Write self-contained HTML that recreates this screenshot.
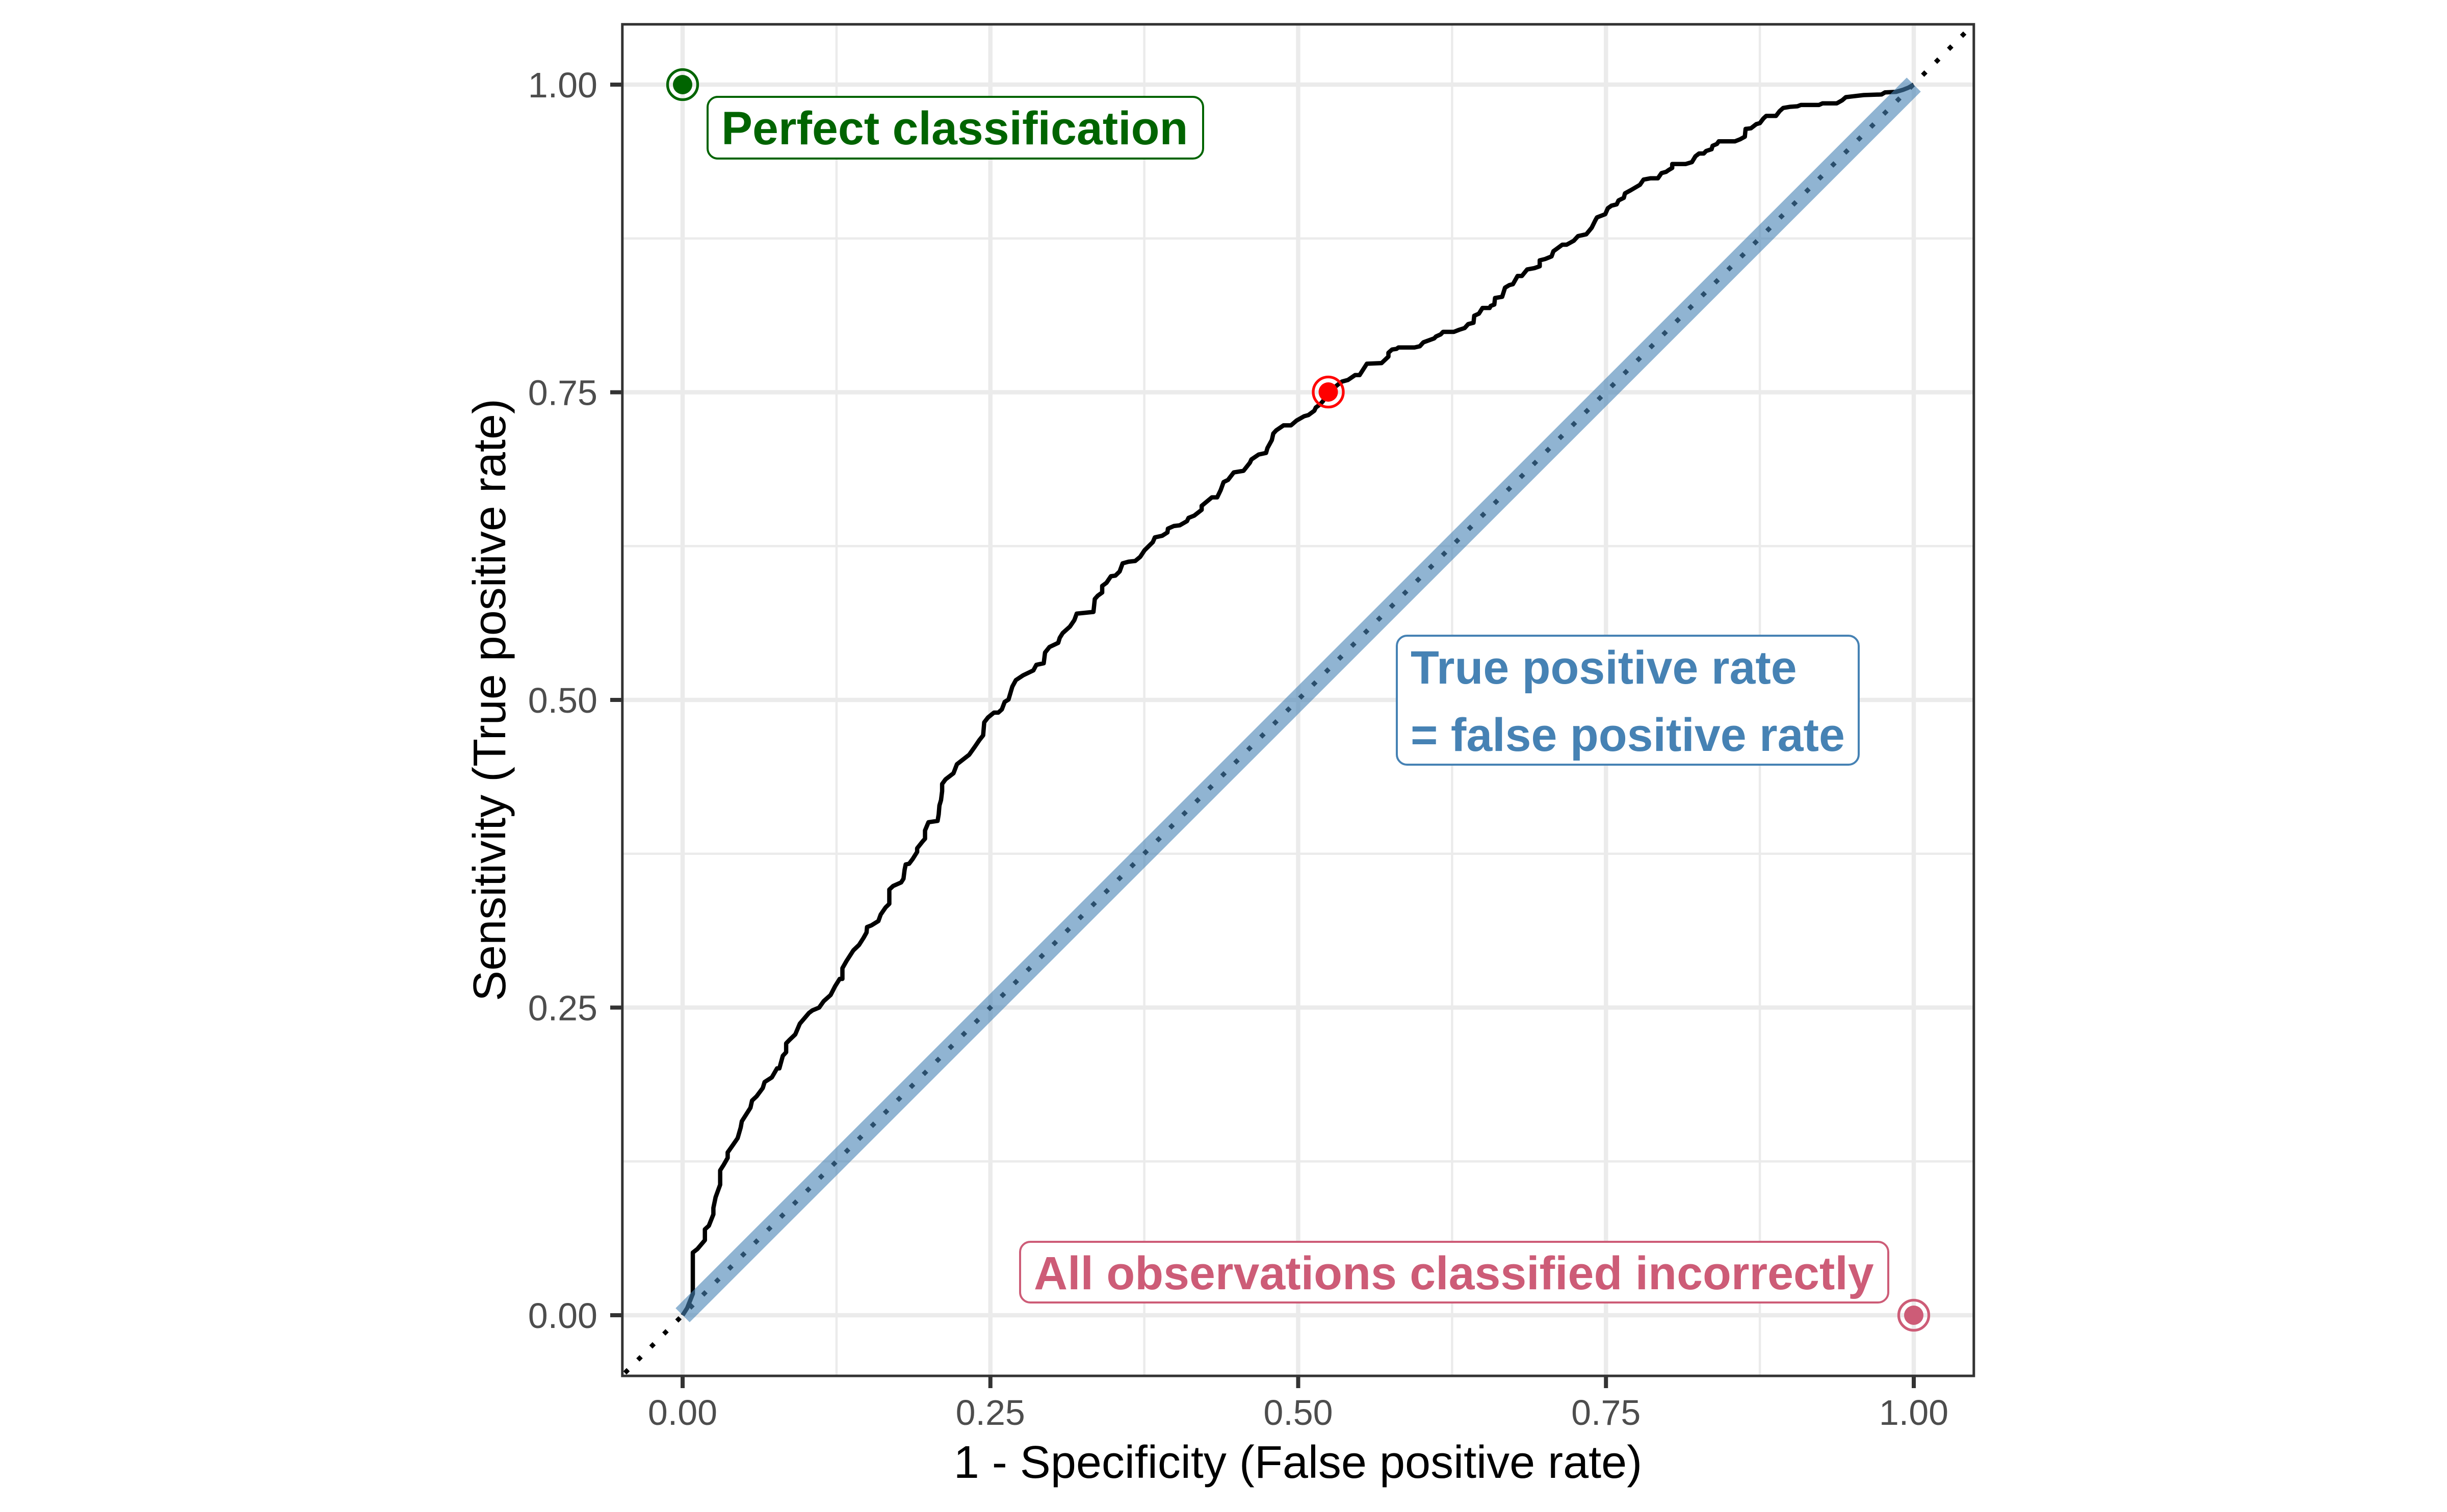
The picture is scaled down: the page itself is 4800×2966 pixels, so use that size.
<!DOCTYPE html>
<html>
<head>
<meta charset="utf-8">
<style>
  html,body{margin:0;padding:0;background:#fff;}
  svg{display:block;}
  text{font-family:"Liberation Sans",Arial,sans-serif;}
</style>
</head>
<body>
<svg width="4800" height="2966" viewBox="0 0 4800 2966" xmlns="http://www.w3.org/2000/svg">
  <rect x="0" y="0" width="4800" height="2966" fill="#ffffff"/>

  <!-- minor grid -->
  <g stroke="#EBEBEB" stroke-width="4.5" fill="none">
    <line x1="1640.9" y1="48" x2="1640.9" y2="2699"/>
    <line x1="2244.6" y1="48" x2="2244.6" y2="2699"/>
    <line x1="2848.4" y1="48" x2="2848.4" y2="2699"/>
    <line x1="3452.1" y1="48" x2="3452.1" y2="2699"/>
    <line x1="1221" y1="2278.25" x2="3872" y2="2278.25"/>
    <line x1="1221" y1="1674.75" x2="3872" y2="1674.75"/>
    <line x1="1221" y1="1071.25" x2="3872" y2="1071.25"/>
    <line x1="1221" y1="467.75" x2="3872" y2="467.75"/>
  </g>
  <!-- major grid -->
  <g stroke="#EBEBEB" stroke-width="8.5" fill="none">
    <line x1="1339" y1="48" x2="1339" y2="2699"/>
    <line x1="1942.75" y1="48" x2="1942.75" y2="2699"/>
    <line x1="2546.5" y1="48" x2="2546.5" y2="2699"/>
    <line x1="3150.25" y1="48" x2="3150.25" y2="2699"/>
    <line x1="3754" y1="48" x2="3754" y2="2699"/>
    <line x1="1221" y1="2580" x2="3872" y2="2580"/>
    <line x1="1221" y1="1976.5" x2="3872" y2="1976.5"/>
    <line x1="1221" y1="1373" x2="3872" y2="1373"/>
    <line x1="1221" y1="769.5" x2="3872" y2="769.5"/>
    <line x1="1221" y1="166" x2="3872" y2="166"/>
  </g>

  <!-- dotted diagonal -->
  <line x1="1221" y1="2698" x2="3872" y2="47" stroke="#000" stroke-width="9" stroke-dasharray="9 27" stroke-dashoffset="29.2"/>

  <!-- ROC curve -->
  <g transform="translate(1339 2580) scale(2415 -2414)">
    <polyline fill="none" stroke="#000" stroke-width="8.5" vector-effect="non-scaling-stroke" stroke-linejoin="round" stroke-linecap="butt" points="
0,0 0.0037,0.0058 0.0083,0.0174 0.0083,0.0509 0.012,0.0538 0.0181,0.0610 0.0181,0.0698 0.0213,0.0727 0.025,0.082 0.025,0.0872 0.0268,0.0959 0.0305,0.1061 0.0305,0.1177 0.0333,0.1221 0.0366,0.1279 0.0366,0.1323 0.0407,0.1381 0.0447,0.1439 0.0472,0.1526 0.0481,0.1576 0.0518,0.1634 0.0551,0.1686 0.0564,0.1744 0.0601,0.1779 0.0651,0.1846 0.0666,0.1895 0.0725,0.1933 0.0767,0.2006 0.0786,0.2006 0.0814,0.2108 0.0841,0.2137 0.0841,0.2209 0.0869,0.2238 0.0915,0.2282 0.0952,0.2369 0.1026,0.2456 0.1054,0.2477 0.1109,0.25 0.1146,0.2552 0.1202,0.2602 0.1239,0.2674 0.1276,0.2733 0.1298,0.2733 0.1298,0.282 0.1331,0.2878 0.1387,0.2965 0.1433,0.3009 0.147,0.3067 0.1494,0.311 0.1498,0.3154 0.1535,0.3169 0.159,0.3203 0.1609,0.3256 0.1649,0.3314 0.1679,0.3343 0.1679,0.3459 0.171,0.3488 0.1775,0.3517 0.1794,0.3547 0.1803,0.3619 0.1812,0.3663 0.184,0.3669 0.1868,0.3706 0.1905,0.3765 0.1905,0.3794 0.1951,0.3852 0.1969,0.3872 0.1969,0.3939 0.1997,0.4006 0.2071,0.4017 0.208,0.407 0.2086,0.4142 0.2099,0.4186 0.2108,0.4259 0.2108,0.4317 0.2136,0.4355 0.22,0.4404 0.2228,0.4477
0.2327,0.4554 0.2374,0.4620 0.241,0.4673 0.2441,0.4712 0.245,0.4818 0.2481,0.4858 0.2529,0.4897 0.2564,0.4897 0.2593,0.4923 0.2616,0.4984 0.2647,0.5003 0.2678,0.5108 0.2707,0.5161 0.2766,0.5200 0.2849,0.5240 0.2873,0.5285 0.2933,0.5298 0.2944,0.5385 0.298,0.5430 0.3051,0.5464 0.3063,0.5504 0.3087,0.5543 0.3146,0.5596 0.3182,0.5649 0.3201,0.5701 0.3337,0.5715 0.3348,0.5820 0.3372,0.5847 0.3408,0.5873 0.3408,0.5926 0.3443,0.5952 0.3479,0.6005 0.3515,0.6010 0.355,0.6044 0.3574,0.6110 0.3622,0.6123 0.3676,0.6129 0.3717,0.6163 0.3752,0.6216 0.3819,0.6282 0.3836,0.6321 0.3895,0.6334 0.3938,0.6361 0.3942,0.6392 0.399,0.6413 0.4038,0.6419 0.4097,0.6453 0.4109,0.6479 0.4156,0.6498 0.4216,0.6545 0.4216,0.6577 0.4299,0.6646 0.4342,0.6646 0.4370,0.6704 0.4394,0.6770 0.443,0.6788 0.4477,0.6849 0.4556,0.6862 0.4608,0.6928 0.462,0.6954 0.4679,0.6994 0.4739,0.7007 0.4750,0.7046 0.4786,0.7112 0.4798,0.7165 0.4822,0.7191 0.4881,0.7231 0.4941,0.7231 0.4988,0.7271 0.5048,0.7305 0.5083,0.7315 0.5131,0.7350 0.5143,0.7376 0.5178,0.7402 0.5202,0.7429 0.5245,0.75 0.5321,0.7561 0.5356,0.7587 0.5404,0.76 0.5463,0.764 0.5499,0.764 0.5558,0.7732 0.5677,0.7737 0.5733,0.7790
0.5733,0.7821 0.5762,0.7847 0.5799,0.7853 0.5814,0.7864 0.5945,0.7864 0.5988,0.7874 0.6017,0.7906 0.6105,0.7938 0.6119,0.7953 0.6157,0.7970 0.6177,0.7991 0.6265,0.7991 0.6308,0.8008 0.6352,0.8022 0.6381,0.8054 0.6424,0.8065 0.643,0.8122 0.6468,0.8139 0.6497,0.8185 0.6555,0.8185 0.6564,0.8202 0.6593,0.8213 0.6599,0.8266 0.6657,0.8276 0.668,0.835 0.6715,0.8371 0.6744,0.8378 0.6782,0.8445 0.6817,0.8445 0.6860,0.8498 0.6919,0.8509 0.6962,0.8524 0.6962,0.8572 0.7006,0.8583 0.7058,0.8604 0.7073,0.8646 0.7145,0.8699 0.718,0.8699 0.7238,0.8731 0.7273,0.8769 0.734,0.8784 0.7384,0.8837 0.7413,0.8896 0.7427,0.8921 0.7494,0.8947 0.7515,0.8995 0.7544,0.9016 0.7587,0.9027 0.7602,0.9059 0.7645,0.908 0.7654,0.9116 0.7703,0.9143 0.7776,0.9186 0.7805,0.9228 0.7863,0.9239 0.7922,0.9239 0.7951,0.9281 0.7988,0.9291 0.8009,0.9306 0.8038,0.9323 0.8038,0.9355 0.8148,0.9355 0.8198,0.937 0.8227,0.9418 0.8256,0.944 0.8294,0.944 0.8314,0.9461 0.8358,0.9475 0.8366,0.9503 0.8401,0.9518 0.8416,0.9539 0.8547,0.9539 0.859,0.9556 0.8628,0.9577 0.8634,0.964 0.8677,0.9645 0.8721,0.9679 0.875,0.9687 0.8779,0.9725 0.8802,0.9746 0.8881,0.9746 0.891,0.9784 0.8939,0.981 0.8997,0.982 0.9055,0.9824 0.9084,0.9835 0.923,0.9835 0.9259,0.9848 0.9375,0.9848 0.9419,0.9873 0.9448,0.9898 0.9506,0.9905 0.9593,0.9915 0.9738,0.992 0.9767,0.9937 0.9855,0.9941 0.9913,0.9958 0.9956,0.9975 1,1"/>
  </g>

  <!-- TPR = FPR band -->
  <line x1="1339" y1="2580" x2="3754" y2="166" stroke="#4682B4" stroke-opacity="0.6" stroke-width="39" stroke-linecap="butt"/>

  <!-- points -->
  <g>
    <circle cx="1339" cy="166" r="29.5" fill="none" stroke="#006400" stroke-width="5.3"/>
    <circle cx="1339" cy="166" r="19" fill="#006400"/>
    <circle cx="2605.5" cy="769" r="29.5" fill="none" stroke="#FF0000" stroke-width="5.3"/>
    <circle cx="2605.5" cy="769" r="19" fill="#FF0000"/>
    <circle cx="3754" cy="2580" r="29.5" fill="none" stroke="#CD5C77" stroke-width="5.3"/>
    <circle cx="3754" cy="2580" r="19" fill="#CD5C77"/>
  </g>

  <!-- labels -->
  <rect x="1388" y="190" width="972" height="121" rx="20" ry="20" fill="#fff" stroke="#006400" stroke-width="4"/>
  <text x="1415" y="283" font-size="91.5" font-weight="bold" fill="#006400">Perfect classification</text>

  <rect x="2740" y="1247" width="906" height="253" rx="20" ry="20" fill="#fff" stroke="#4682B4" stroke-width="4"/>
  <text x="2767" y="1341" font-size="91.5" font-weight="bold" fill="#4682B4">True positive rate</text>
  <text x="2767" y="1473" font-size="91.5" font-weight="bold" fill="#4682B4">= false positive rate</text>

  <rect x="2001" y="2436" width="1703" height="119" rx="20" ry="20" fill="#fff" stroke="#CD5C77" stroke-width="4"/>
  <text x="2028" y="2529" font-size="91.5" font-weight="bold" fill="#CD5C77">All observations classified incorrectly</text>

  <!-- panel border -->
  <rect x="1220.8" y="47.7" width="2651" height="2651.3" fill="none" stroke="#333333" stroke-width="5"/>

  <!-- ticks -->
  <g stroke="#333333" stroke-width="8">
    <line x1="1339" y1="2701" x2="1339" y2="2723"/>
    <line x1="1942.75" y1="2701" x2="1942.75" y2="2723"/>
    <line x1="2546.5" y1="2701" x2="2546.5" y2="2723"/>
    <line x1="3150.25" y1="2701" x2="3150.25" y2="2723"/>
    <line x1="3754" y1="2701" x2="3754" y2="2723"/>
    <line x1="1197" y1="2580" x2="1219" y2="2580"/>
    <line x1="1197" y1="1976.5" x2="1219" y2="1976.5"/>
    <line x1="1197" y1="1373" x2="1219" y2="1373"/>
    <line x1="1197" y1="769.5" x2="1219" y2="769.5"/>
    <line x1="1197" y1="166" x2="1219" y2="166"/>
  </g>

  <!-- tick labels -->
  <g font-size="70" fill="#4D4D4D">
    <text x="1339" y="2795" text-anchor="middle">0.00</text>
    <text x="1942.75" y="2795" text-anchor="middle">0.25</text>
    <text x="2546.5" y="2795" text-anchor="middle">0.50</text>
    <text x="3150.25" y="2795" text-anchor="middle">0.75</text>
    <text x="3754" y="2795" text-anchor="middle">1.00</text>
    <text x="1172" y="2605" text-anchor="end">0.00</text>
    <text x="1172" y="2001.5" text-anchor="end">0.25</text>
    <text x="1172" y="1398" text-anchor="end">0.50</text>
    <text x="1172" y="794.5" text-anchor="end">0.75</text>
    <text x="1172" y="191" text-anchor="end">1.00</text>
  </g>

  <!-- axis titles -->
  <text x="2546" y="2899" font-size="90" fill="#000" text-anchor="middle">1 - Specificity (False positive rate)</text>
  <text transform="translate(991 1373) rotate(-90)" x="0" y="0" font-size="90" fill="#000" text-anchor="middle">Sensitivity (True positive rate)</text>
</svg>
</body>
</html>
